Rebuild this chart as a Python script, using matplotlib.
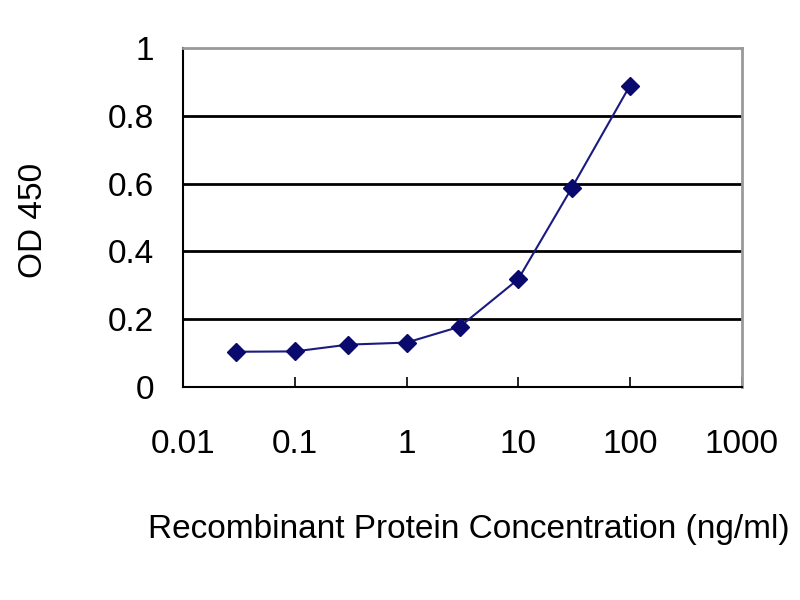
import numpy as np
import matplotlib
matplotlib.use("Agg")
import matplotlib.pyplot as plt

conc = [0.03, 0.1, 0.3, 1, 3, 10, 30, 100]
od450 = [0.104, 0.105, 0.125, 0.131, 0.178, 0.318, 0.586, 0.889]
xticks = [0.01, 0.1, 1, 10, 100, 1000]
xticklabels = ["0.01", "0.1", "1", "10", "100", "1000"]
yticks = [0, 0.2, 0.4, 0.6, 0.8, 1]
yticklabels = ["0", "0.2", "0.4", "0.6", "0.8", "1"]

plt.rcParams["font.family"] = ["Liberation Sans", "DejaVu Sans"]

fig = plt.figure(figsize=(8, 6), dpi=100)
ax = fig.add_axes([0.229, 0.355, 0.698, 0.565])

for y in yticks[1:-1]:
    ax.axhline(y, color="black", lw=2, zorder=1)

ax.plot(conc, od450, color="#1a1a80", lw=1.5, marker="D", markersize=9,
        markerfacecolor="#0a0a6e", markeredgecolor="#0a0a6e", zorder=3)

ax.set_xscale("log")
ax.set_xlim(0.01, 1000)
ax.set_ylim(0, 1)
ax.set_xticks(xticks)
ax.set_xticklabels(xticklabels)
ax.minorticks_off()
ax.set_yticks(yticks)
ax.set_yticklabels(yticklabels)

ax.tick_params(axis="x", direction="in", length=7, width=1.2, pad=30, labelsize=24)
ax.tick_params(axis="y", length=0, pad=21, labelsize=24)

ax.spines["left"].set_color("black")
ax.spines["bottom"].set_color("black")
ax.spines["left"].set_linewidth(1.5)
ax.spines["bottom"].set_linewidth(1.5)
ax.spines["top"].set_color("#999999")
ax.spines["right"].set_color("#999999")
ax.spines["top"].set_linewidth(2)
ax.spines["right"].set_linewidth(2)

fig.text(0.042, 0.633, "OD 450", rotation=90, ha="center", va="center", fontsize=24)
fig.text(0.185, 0.117, "Recombinant Protein Concentration (ng/ml)", ha="left", va="center", fontsize=24)

fig.savefig("out.png", dpi=100)
